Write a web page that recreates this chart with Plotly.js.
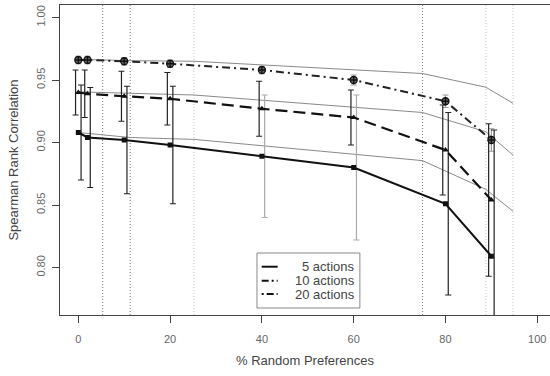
<!DOCTYPE html>
<html>
<head>
<meta charset="utf-8">
<script src="https://cdn.plot.ly/plotly-3.0.1.min.js"></script>
<style>html,body{margin:0;padding:0;background:#fff;}#chart{width:550px;height:376px;}</style>
</head>
<body>
<div id="chart"></div>
<script>
// % random preferences (x positions of measured points)
const pctRandom = [0, 2, 10, 20, 40, 60, 80, 90];
// Spearman rank correlation means
const actions5  = [0.908, 0.904, 0.902, 0.898, 0.889, 0.880, 0.851, 0.809];
const actions10 = [0.940, 0.939, 0.937, 0.935, 0.927, 0.920, 0.894, 0.854];
const actions20 = [0.966, 0.966, 0.965, 0.963, 0.958, 0.950, 0.933, 0.902];
// error bar half-widths
const err5  = [0.038, 0.040, 0.043, 0.047, 0.049, 0.058, 0.073, 0.101];
const err10 = [0.018, 0.019, 0.020, 0.021, 0.022, 0.022, 0.036, 0.061];
const err20 = [0.003, 0.003, 0.003, 0.003, 0.003, 0.004, 0.005, 0.009];
// thin grey reference curves
const curveX  = [0, 5.3, 11.3, 25.2, 75, 88.8, 94.7];
const curve20 = [0.9665, 0.9660, 0.9655, 0.9650, 0.9552, 0.9442, 0.9314];
const curve10 = [0.9405, 0.9400, 0.9393, 0.9380, 0.9240, 0.9086, 0.8900];
const curve5  = [0.9080, 0.9060, 0.9040, 0.9025, 0.8855, 0.8625, 0.8450];
// vertical dotted reference lines
const refLines = [5.3, 11.3, 25.2, 75, 88.8, 94.7];
const seriesNames = ['5 actions', '10 actions', '20 actions'];
const xTicks = [0, 20, 40, 60, 80, 100];
const yTicks = [0.80, 0.85, 0.90, 0.95, 1.00];

// styles (kept separate from data)
const refLineColors = ['#777', '#777', '#c4c4c4', '#777', '#c4c4c4', '#c4c4c4'];
const err5Colors = ['#222', '#222', '#222', '#222', '#aaa', '#aaa', '#222', '#222'];
const seriesDash = ['solid', '12px,6px', '8px,4px,2px,4px'];
const legendDash = ['solid', '7px,3px,2px,3px', '2px,3px,7px,3px'];

const traces = [];
// grey curves
[curve5, curve10, curve20].forEach(c => {
  traces.push({x: curveX, y: c, mode: 'lines', line: {color: '#8a8a8a', width: 1}, showlegend: false, hoverinfo: 'skip'});
});

// error bars (slightly offset as in original)
function addErr(vals, errs, colors, off) {
  pctRandom.forEach((xv, i) => {
    traces.push({
      x: [xv + off], y: [vals[i]], mode: 'markers',
      marker: {size: 1, opacity: 0},
      error_y: {type: 'data', array: [errs[i]], visible: true, color: colors[i], thickness: 1.2, width: 3},
      showlegend: false, hoverinfo: 'skip'
    });
  });
}
addErr(actions20, err20, pctRandom.map(() => '#999'), 0);
addErr(actions10, err10, pctRandom.map(() => '#222'), -0.6);
addErr(actions5, err5, err5Colors, 0.6);

// main series
traces.push({x: pctRandom, y: actions5, mode: 'lines+markers', line: {color: '#111', width: 2, dash: seriesDash[0]},
  marker: {symbol: 'square', size: 5, color: '#111'}, showlegend: false});
traces.push({x: pctRandom, y: actions10, mode: 'lines+markers', line: {color: '#111', width: 2.2, dash: seriesDash[1]},
  marker: {symbol: 'triangle-up', size: 6, color: '#111'}, showlegend: false});
traces.push({x: pctRandom, y: actions20, mode: 'lines+markers', line: {color: '#222', width: 2, dash: seriesDash[2]},
  marker: {symbol: 'circle-cross', size: 7, color: '#666', line: {color: '#111', width: 1.3}}, showlegend: false});

const shapes = refLines.map((xv, i) => ({
  type: 'line', xref: 'x', yref: 'paper', x0: xv, x1: xv, y0: 0, y1: 1,
  line: {color: refLineColors[i], width: 1, dash: '1px,2px'}, layer: 'below'
}));

// custom legend box (R style)
const legBox = {x0: 0.402, x1: 0.612, y0: 0.0226, y1: 0.2};
const legRowY = [0.1558, 0.1106, 0.0677];
shapes.push({type: 'rect', xref: 'paper', yref: 'paper', x0: legBox.x0, x1: legBox.x1, y0: legBox.y0, y1: legBox.y1,
  line: {color: '#888', width: 1}, fillcolor: '#fff', layer: 'above'});
const annotations = [];
seriesNames.forEach((n, i) => {
  shapes.push({type: 'line', xref: 'paper', yref: 'paper', x0: 0.4116, x1: 0.4442, y0: legRowY[i], y1: legRowY[i],
    line: {color: '#111', width: 2, dash: legendDash[i]}, layer: 'above'});
  annotations.push({xref: 'paper', yref: 'paper', x: 0.606, y: legRowY[i], xanchor: 'right', yanchor: 'middle',
    text: n, showarrow: false, font: {size: 13, color: '#444'}});
});

const layout = {
  width: 550, height: 376,
  margin: {l: 60, r: 0, t: 5, b: 61},
  paper_bgcolor: '#fff', plot_bgcolor: '#fff',
  font: {family: 'Liberation Sans, Arial, sans-serif', color: '#555', size: 11},
  showlegend: false,
  xaxis: {
    range: [-3.99, 102.77], tickvals: xTicks, ticktext: xTicks.map(String),
    showgrid: false, zeroline: false, showline: true, mirror: true, linecolor: '#444', linewidth: 1.2,
    ticks: 'outside', ticklen: 7, tickcolor: '#444', ticklabelstandoff: 7, tickfont: {size: 11, color: '#666'},
    title: {text: '% Random Preferences', font: {size: 13, color: '#444'}, standoff: 11}
  },
  yaxis: {
    range: [0.762, 1.01], tickvals: yTicks, ticktext: yTicks.map(v => v.toFixed(2)),
    showgrid: false, zeroline: false, showline: true, mirror: false, linecolor: '#444', linewidth: 1.2,
    ticks: 'outside', ticklen: 7, tickcolor: '#444', tickangle: -90, ticklabelstandoff: 2, tickfont: {size: 11, color: '#666'},
    title: {text: 'Spearman Rank Correlation', font: {size: 13, color: '#444'}, standoff: 13}
  },
  shapes: shapes,
  annotations: annotations
};

Plotly.newPlot('chart', traces, layout, {displayModeBar: false, staticPlot: true});
</script>
</body>
</html>
